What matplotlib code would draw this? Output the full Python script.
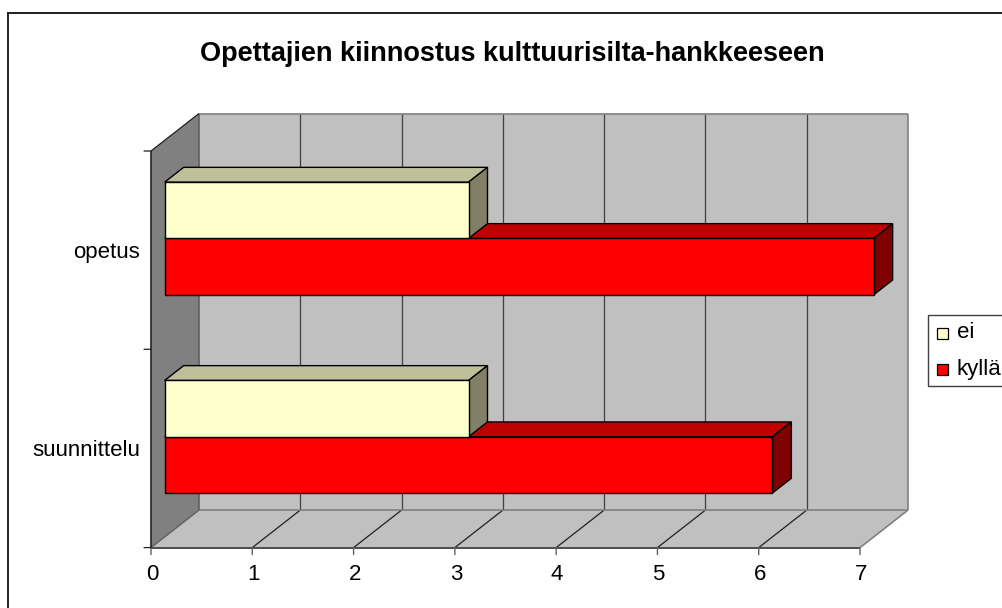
import matplotlib
matplotlib.use("Agg")
import matplotlib.pyplot as plt
from matplotlib.patches import Polygon, Rectangle

categories = ["suunnittelu", "opetus"]
series_names = ["ei", "kyllä"]
ei_values = [3, 3]
kylla_values = [6, 7]
x_ticks = [0, 1, 2, 3, 4, 5, 6, 7]
title = "Opettajien kiinnostus kulttuurisilta-hankkeeseen"

W, H = 1002, 608
plt.rcParams["font.family"] = ["Liberation Sans", "DejaVu Sans"]
fig = plt.figure(figsize=(W / 100, H / 100), dpi=100, facecolor="white")

# page-level overlay in pixels for frame, title and legend
page = fig.add_axes([0, 0, 1, 1])
page.set_xlim(0, W)
page.set_ylim(H, 0)
page.axis("off")
page.plot([8, 8, W], [H, 12.5, 12.5], color="#202020", lw=1.4, solid_joinstyle="miter")
page.text(512, 54, title, ha="center", va="center", fontsize=19.5, fontweight="bold", color="black")

# front plane of the chart
L, R, T, B = 151, 860, 151, 547.6
ax = fig.add_axes([L / W, 1 - B / H, (R - L) / W, (B - T) / H])
ax.set_xlim(0, 7)
ax.set_ylim(0, 2)
ax.axis("off")

DX = 48 / ((R - L) / 7)       # depth shift in x data units
DY = 37.5 / ((B - T) / 2)     # depth shift in y data units
F0, F1 = 0.285, 0.68          # depth range of the bars
BAR_H = 0.284
CENTER = 0.505
FS = 16

def p(x, y, f=0.0):
    return (x + DX * f, y + DY * f)

def poly(points, fc, ec="none", lw=0.0, z=1):
    ax.add_patch(Polygon(points, closed=True, fc=fc, ec=ec, lw=lw, zorder=z,
                         clip_on=False, joinstyle="miter"))

WALL = "#c0c0c0"
SIDE = "#808080"
# back wall, floor, side wall
poly([p(0, 0, 1), p(7, 0, 1), p(7, 2, 1), p(0, 2, 1)], WALL, z=1)
poly([p(0, 0), p(7, 0), p(7, 0, 1), p(0, 0, 1)], WALL, z=1)
poly([p(0, 0), p(0, 0, 1), p(0, 2, 1), p(0, 2)], SIDE, z=1)

def seg(a, b, color, lw=1.0, z=2):
    ax.plot([a[0], b[0]], [a[1], b[1]], color=color, lw=lw, zorder=z, clip_on=False,
            solid_capstyle="butt")

# gridlines
for t in x_ticks[1:-1]:
    seg(p(t, 0), p(t, 0, 1), "#202020", 0.9)
    seg(p(t, 0, 1), p(t, 2, 1), "#404040", 0.9)
# wall outlines
seg(p(0, 2, 1), p(7, 2, 1), "#808080", 1.2)
seg(p(7, 2, 1), p(7, 0, 1), "#808080", 1.2)
seg(p(7, 0, 1), p(7, 0), "#808080", 1.2)
seg(p(0, 0, 1), p(7, 0, 1), "#808080", 1.2)
seg(p(0, 0, 1), p(0, 2, 1), "#606060", 1.2)
seg(p(0, 0), p(0, 0, 1), "#606060", 1.0)
seg(p(0, 2), p(0, 2, 1), "#202020", 0.9)
# axes lines and ticks
seg(p(0, 0), p(7, 0), "#404040", 1.3, z=3)
seg(p(0, 0), p(0, 2), "#303030", 1.3, z=3)

for t in x_ticks:
    ax.annotate("", xy=(t, 0), xytext=(0, -7), textcoords="offset pixels",
                arrowprops=dict(arrowstyle="-", color="#606060", lw=1.0, shrinkA=0, shrinkB=0))
    ax.annotate(str(t), xy=(t, 0), xytext=(1, -27), textcoords="offset pixels",
                ha="center", va="center", fontsize=FS, color="black", annotation_clip=False)
for t in [0, 1, 2]:
    ax.annotate("", xy=(0, t), xytext=(-7, 0), textcoords="offset pixels",
                arrowprops=dict(arrowstyle="-", color="#202020", lw=0.9, shrinkA=0, shrinkB=0))
for i, c in enumerate(categories):
    ax.annotate(c, xy=(0, i + 0.5), xytext=(-11, -2), textcoords="offset pixels",
                ha="right", va="center", fontsize=FS, color="black", annotation_clip=False)

def bar3d(v, y0, y1, front, top, side, z):
    ec, lw = "black", 1.0
    poly([p(0, y1, F0), p(v, y1, F0), p(v, y1, F1), p(0, y1, F1)], top, ec, lw, z)
    poly([p(v, y0, F0), p(v, y0, F1), p(v, y1, F1), p(v, y1, F0)], side, ec, lw, z)
    poly([p(0, y0, F0), p(v, y0, F0), p(v, y1, F0), p(0, y1, F0)], front, ec, lw, z)

for i in range(len(categories)):
    c = i + CENTER
    bar3d(ei_values[i], c, c + BAR_H, "#ffffcc", "#bfbf99", "#808066", 5 + 2 * i)
    bar3d(kylla_values[i], c - BAR_H, c, "#ff0000", "#bf0000", "#800000", 4 + 2 * i)

# legend
page.add_patch(Rectangle((928.5, 314.5), W + 20, 71, fc="white", ec="#404040", lw=1.0, zorder=10))
swatches = [("#ffffcc", 333), ("#ff0000", 369.5)]
for name, (col, y) in zip(series_names, swatches):
    page.add_patch(Rectangle((937, y - 5.5), 11, 11, fc=col, ec="black", lw=0.9, zorder=11))
    page.text(957, y, name, ha="left", va="center", fontsize=FS, color="black", zorder=11)

fig.savefig("out.png", dpi=100, facecolor="white")
